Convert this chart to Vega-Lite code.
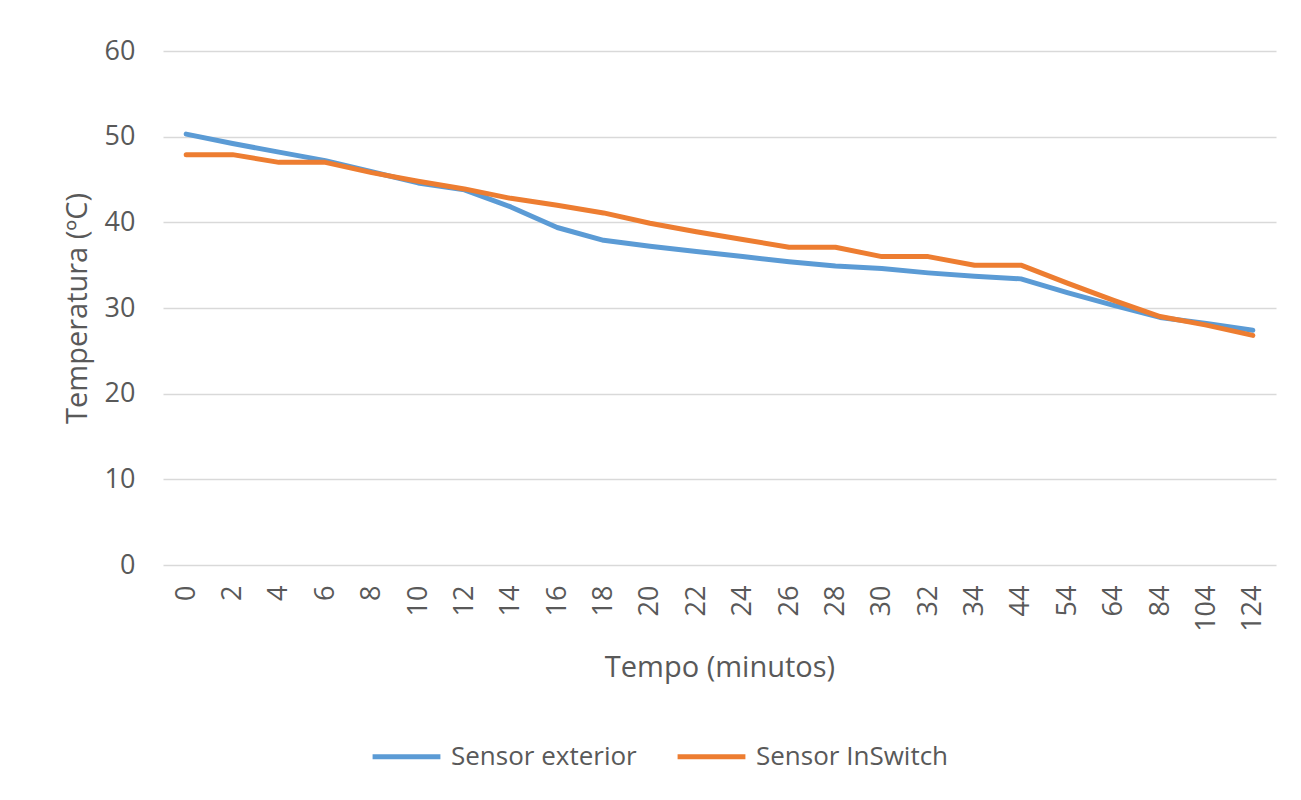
{
  "$schema": "https://vega.github.io/schema/vega-lite/v6.json",
  "width": 1113,
  "height": 514,
  "autosize": {"type": "none"},
  "padding": {"left": 163, "top": 51, "right": 25, "bottom": 235},
  "background": "white",
  "data": {
    "values": [
      {"t": 0, "serie": "Sensor exterior", "temp": 50.3},
      {"t": 2, "serie": "Sensor exterior", "temp": 49.2},
      {"t": 4, "serie": "Sensor exterior", "temp": 48.2},
      {"t": 6, "serie": "Sensor exterior", "temp": 47.2},
      {"t": 8, "serie": "Sensor exterior", "temp": 45.9},
      {"t": 10, "serie": "Sensor exterior", "temp": 44.6},
      {"t": 12, "serie": "Sensor exterior", "temp": 43.8},
      {"t": 14, "serie": "Sensor exterior", "temp": 41.8},
      {"t": 16, "serie": "Sensor exterior", "temp": 39.4},
      {"t": 18, "serie": "Sensor exterior", "temp": 37.9},
      {"t": 20, "serie": "Sensor exterior", "temp": 37.2},
      {"t": 22, "serie": "Sensor exterior", "temp": 36.6},
      {"t": 24, "serie": "Sensor exterior", "temp": 36.0},
      {"t": 26, "serie": "Sensor exterior", "temp": 35.4},
      {"t": 28, "serie": "Sensor exterior", "temp": 34.9},
      {"t": 30, "serie": "Sensor exterior", "temp": 34.6},
      {"t": 32, "serie": "Sensor exterior", "temp": 34.1},
      {"t": 34, "serie": "Sensor exterior", "temp": 33.7},
      {"t": 44, "serie": "Sensor exterior", "temp": 33.4},
      {"t": 54, "serie": "Sensor exterior", "temp": 31.8},
      {"t": 64, "serie": "Sensor exterior", "temp": 30.3},
      {"t": 84, "serie": "Sensor exterior", "temp": 28.9},
      {"t": 104, "serie": "Sensor exterior", "temp": 28.2},
      {"t": 124, "serie": "Sensor exterior", "temp": 27.4},
      {"t": 0, "serie": "Sensor InSwitch", "temp": 47.9},
      {"t": 2, "serie": "Sensor InSwitch", "temp": 47.9},
      {"t": 4, "serie": "Sensor InSwitch", "temp": 47.0},
      {"t": 6, "serie": "Sensor InSwitch", "temp": 47.0},
      {"t": 8, "serie": "Sensor InSwitch", "temp": 45.8},
      {"t": 10, "serie": "Sensor InSwitch", "temp": 44.8},
      {"t": 12, "serie": "Sensor InSwitch", "temp": 43.9},
      {"t": 14, "serie": "Sensor InSwitch", "temp": 42.8},
      {"t": 16, "serie": "Sensor InSwitch", "temp": 42.0},
      {"t": 18, "serie": "Sensor InSwitch", "temp": 41.1},
      {"t": 20, "serie": "Sensor InSwitch", "temp": 39.9},
      {"t": 22, "serie": "Sensor InSwitch", "temp": 38.9},
      {"t": 24, "serie": "Sensor InSwitch", "temp": 38.0},
      {"t": 26, "serie": "Sensor InSwitch", "temp": 37.1},
      {"t": 28, "serie": "Sensor InSwitch", "temp": 37.1},
      {"t": 30, "serie": "Sensor InSwitch", "temp": 36.0},
      {"t": 32, "serie": "Sensor InSwitch", "temp": 36.0},
      {"t": 34, "serie": "Sensor InSwitch", "temp": 35.0},
      {"t": 44, "serie": "Sensor InSwitch", "temp": 35.0},
      {"t": 54, "serie": "Sensor InSwitch", "temp": 32.9},
      {"t": 64, "serie": "Sensor InSwitch", "temp": 30.9},
      {"t": 84, "serie": "Sensor InSwitch", "temp": 29.0},
      {"t": 104, "serie": "Sensor InSwitch", "temp": 28.0},
      {"t": 124, "serie": "Sensor InSwitch", "temp": 26.8}
    ]
  },
  "mark": {"type": "line", "strokeWidth": 5, "strokeCap": "round", "strokeJoin": "round"},
  "encoding": {
    "x": {
      "field": "t",
      "type": "ordinal",
      "scale": {"type": "point", "padding": 0.5},
      "axis": {
        "title": "Tempo (minutos)",
        "labelAngle": -90,
        "labelPadding": 20,
        "titlePadding": 22,
        "grid": false,
        "domain": false,
        "ticks": false
      }
    },
    "y": {
      "field": "temp",
      "type": "quantitative",
      "scale": {"domain": [0, 60], "nice": false},
      "axis": {
        "title": "Temperatura (ºC)",
        "values": [0, 10, 20, 30, 40, 50, 60],
        "labelPadding": 28,
        "titlePadding": 12,
        "grid": true,
        "domain": false,
        "ticks": false
      }
    },
    "color": {
      "field": "serie",
      "type": "nominal",
      "scale": {
        "domain": ["Sensor exterior", "Sensor InSwitch"],
        "range": ["#5B9BD5", "#ED7D31"]
      },
      "legend": {
        "title": null,
        "orient": "none",
        "direction": "horizontal",
        "legendX": 207,
        "legendY": 669,
        "symbolType": "stroke",
        "symbolSize": 4600,
        "symbolStrokeWidth": 5,
        "labelOffset": 8,
        "columnPadding": 30
      }
    }
  },
  "config": {
    "font": "Open Sans",
    "view": {"stroke": null},
    "axis": {
      "labelFont": "Open Sans",
      "titleFont": "Open Sans",
      "labelFontSize": 27,
      "titleFontSize": 29,
      "titleFontWeight": "normal",
      "labelColor": "#595959",
      "titleColor": "#595959",
      "gridColor": "#D9D9D9",
      "gridWidth": 1.5
    },
    "legend": {
      "labelFont": "Open Sans",
      "labelFontSize": 26,
      "labelColor": "#595959",
      "labelLimit": 400
    }
  }
}
